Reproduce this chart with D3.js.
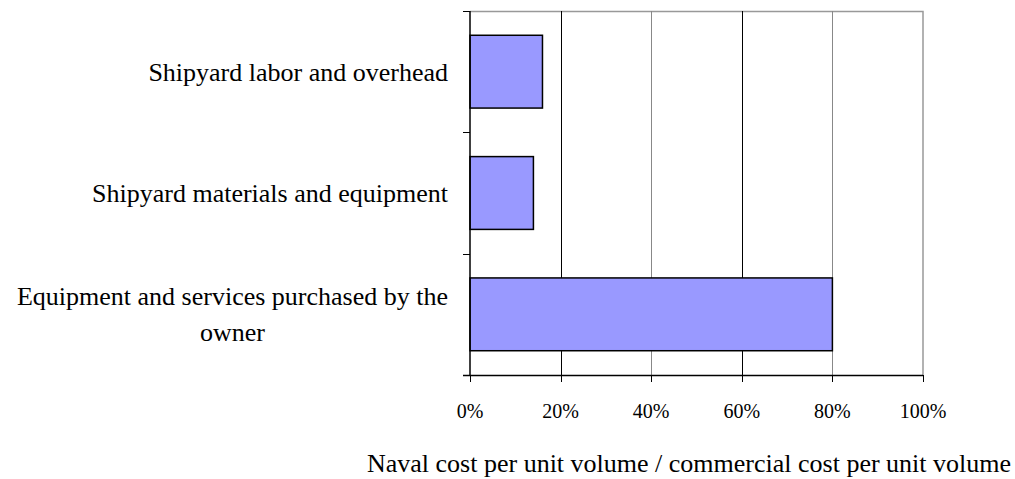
<!DOCTYPE html>
<html>
<head>
<meta charset="utf-8">
<script src="https://cdn.jsdelivr.net/npm/d3@7"></script>
<style>
  body { margin: 0; background: #fff; }
  svg { display: block; }
  text { font-family: "Liberation Serif", "Times New Roman", serif; fill: #000; }
</style>
</head>
<body>
<div id="chart"></div>
<script>
// data, top to bottom as drawn
var categories = [
  "Shipyard labor and overhead",
  "Shipyard materials and equipment",
  "Equipment and services purchased by the owner"
];
var values = [16, 14, 80];
var xTicks = [0, 20, 40, 60, 80, 100];
var xTitle = "Naval cost per unit volume / commercial cost per unit volume";

var width = 1015, height = 479;
var margin = { top: 11, right: 92, bottom: 104, left: 470 };
var innerW = width - margin.left - margin.right;
var innerH = height - margin.top - margin.bottom;
var labelSize = 26, tickSize = 20;

var svg = d3.select("#chart").append("svg")
  .attr("width", width)
  .attr("height", height);

var g = svg.append("g")
  .attr("transform", "translate(" + margin.left + "," + margin.top + ")");

var x = d3.scaleLinear().domain([0, 100]).range([0, innerW]);
var y = d3.scaleBand()
  .domain(categories)
  .range([0, innerH])
  .paddingInner(0.4)
  .paddingOuter(0.2);

// frame (top + right in gray)
g.append("path")
  .attr("d", "M0,0.5H" + x(100) + "V" + innerH)
  .attr("fill", "none")
  .attr("stroke", "#999")
  .attr("stroke-width", 1.5);

// vertical gridlines
g.append("g")
  .selectAll("line")
  .data(xTicks.slice(1, -1))
  .enter()
  .append("line")
  .attr("x1", function(d) { return Math.round(x(d)) + 0.5; })
  .attr("x2", function(d) { return Math.round(x(d)) + 0.5; })
  .attr("y1", 0)
  .attr("y2", innerH)
  .attr("stroke", function(d, i) { return i % 2 ? "#888" : "#000"; })
  .attr("stroke-width", 1);

// bars
g.append("g")
  .selectAll("rect")
  .data(values)
  .enter()
  .append("rect")
  .attr("x", x(0))
  .attr("y", function(d, i) { return y(categories[i]); })
  .attr("width", function(d) { return x(d) - x(0); })
  .attr("height", y.bandwidth())
  .attr("fill", "#9999ff")
  .attr("stroke", "#000")
  .attr("stroke-width", 1.5);

// category axis (left) with ticks between bands
var bandStep = innerH / categories.length;
var sepTicks = d3.range(categories.length + 1).map(function(i) { return i * bandStep; });
var left = g.append("g");
left.append("line")
  .attr("x1", 0).attr("x2", 0)
  .attr("y1", 0).attr("y2", innerH)
  .attr("stroke", "#000").attr("stroke-width", 1.5);
left.selectAll(".tick")
  .data(sepTicks)
  .enter()
  .append("line")
  .attr("class", "tick")
  .attr("x1", -7).attr("x2", 0)
  .attr("y1", function(d) { return Math.round(d) + 0.5; })
  .attr("y2", function(d) { return Math.round(d) + 0.5; })
  .attr("stroke", "#000");

// category labels, wrapped like the original
var wrapW = 445;
categories.forEach(function(c, i) {
  var cy = y(c) + y.bandwidth() / 2;
  var t = left.append("text")
    .attr("font-size", labelSize)
    .attr("text-anchor", "end")
    .attr("x", -22)
    .attr("y", cy)
    .attr("dy", "0.35em")
    .text(c);
  if (t.node().getComputedTextLength() > wrapW) {
    t.remove();
    var words = c.split(" ");
    var last = words.pop();
    var first = words.join(" ");
    var t1 = left.append("text")
      .attr("font-size", labelSize)
      .attr("text-anchor", "end")
      .attr("x", -22)
      .attr("y", cy - 18)
      .attr("dy", "0.35em")
      .text(first);
    var w1 = t1.node().getComputedTextLength();
    left.append("text")
      .attr("font-size", labelSize)
      .attr("text-anchor", "middle")
      .attr("x", -22 - w1 / 2)
      .attr("y", cy + 18)
      .attr("dy", "0.35em")
      .text(last);
  }
});

// value axis (bottom)
var bottom = g.append("g")
  .attr("transform", "translate(0," + innerH + ")");
bottom.append("line")
  .attr("x1", -7).attr("x2", x(100))
  .attr("y1", 0.5).attr("y2", 0.5)
  .attr("stroke", "#000").attr("stroke-width", 1.5);
bottom.selectAll(".tick")
  .data(xTicks)
  .enter()
  .append("line")
  .attr("class", "tick")
  .attr("x1", function(d) { return Math.round(x(d)) + 0.5; })
  .attr("x2", function(d) { return Math.round(x(d)) + 0.5; })
  .attr("y1", 0).attr("y2", 7)
  .attr("stroke", "#000");
bottom.selectAll(".label")
  .data(xTicks)
  .enter()
  .append("text")
  .attr("class", "label")
  .attr("font-size", tickSize)
  .attr("text-anchor", "middle")
  .attr("x", function(d) { return x(d); })
  .attr("y", 43)
  .text(function(d) { return d + "%"; });

svg.append("text")
  .attr("font-size", labelSize)
  .attr("text-anchor", "middle")
  .attr("x", 689)
  .attr("y", 472)
  .text(xTitle);
</script>
</body>
</html>
